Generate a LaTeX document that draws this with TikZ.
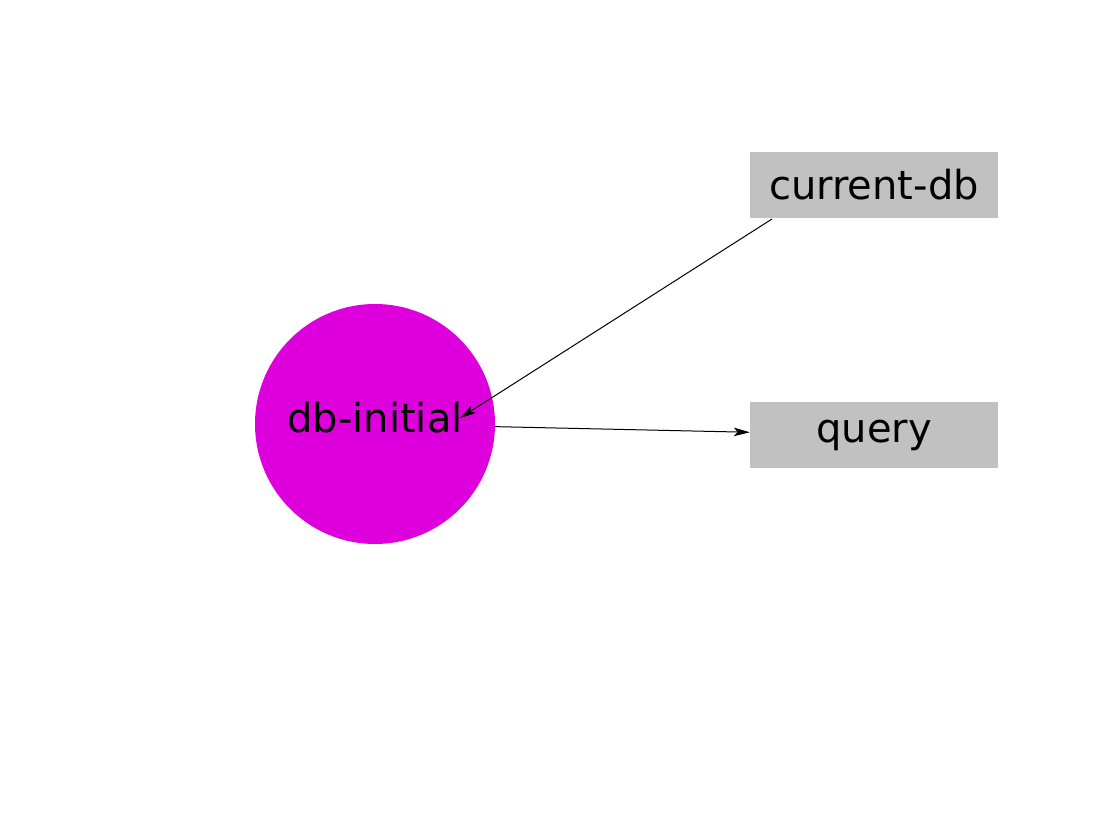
\documentclass[tikz,border=0pt]{standalone}
\usepackage{fontspec}
\setmainfont{DejaVu Sans}
\usetikzlibrary{arrows.meta}
\definecolor{dbmag}{HTML}{DD00DD}
\definecolor{boxgray}{HTML}{C1C1C1}
\tikzset{
  px/.style={x=0.75pt,y=-0.75pt},
  dbnode/.style={circle,fill=dbmag,draw=none,minimum size=180pt,inner sep=0pt,text height=22pt,text depth=8.6pt,font=\fontsize{30}{34}\selectfont},
  grbox/.style={rectangle,fill=boxgray,draw=none,minimum width=186pt,minimum height=49.5pt,inner sep=0pt,font=\fontsize{30}{34}\selectfont},
  conn/.style={draw=black,line width=0.75pt,-{Stealth[length=12pt,width=6.5pt,inset=3pt]}}
}
\begin{document}
\begin{tikzpicture}[px]
\useasboundingbox (0,0) rectangle (1093,820);
\node[dbnode] (db) at (375,424) {db-initial};
\node[grbox] (cur) at (874,185) {current-db};
\node[grbox] (q) at (874,435) {query};
\coordinate (s1) at (772,219);
\coordinate (tip) at (460,418);
\draw[conn] (s1) -- (tip);
\draw[conn] (db) -- (q);
\end{tikzpicture}
\end{document}
